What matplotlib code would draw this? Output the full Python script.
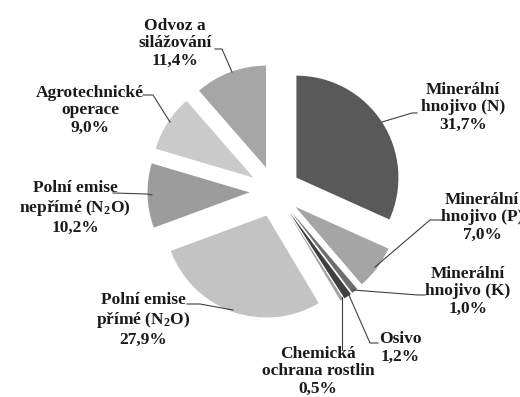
import matplotlib
matplotlib.use("Agg")
import matplotlib.pyplot as plt

# skladba emisí - podíly jednotlivých položek
labels = [
    "Minerální\nhnojivo (N)",
    "Minerální\nhnojivo (P)",
    "Minerální\nhnojivo (K)",
    "Osivo",
    "Chemická\nochrana rostlin",
    "Polní emise\npřímé (N$_2$O)",
    "Polní emise\nnepřímé (N$_2$O)",
    "Agrotechnické\noperace",
    "Odvoz a\nsilážování",
]
shares = [31.7, 7.0, 1.0, 1.2, 0.5, 27.9, 10.2, 9.0, 11.4]
colors = ["#595959", "#a5a5a5", "#6e6e6e", "#3f3f3f", "#a0a0a0",
          "#c3c3c3", "#9c9c9c", "#cacaca", "#a6a6a6"]

# umístění popisků (pixely, y odspodu) a lomené odkazové čáry
label_pos = [(463, 290), (482, 180), (468, 106), (400, 49), (318, 26),
             (143, 77), (75, 189), (90, 287), (175, 354)]
leaders = [
    [(417, 113), (412, 113), (382, 122)],
    [(443, 220), (430, 220), (375, 267)],
    [(425, 295), (418, 295), (353, 290)],
    [(378, 343), (370, 343), (348, 293)],
    [(342, 350), (342, 297)],
    [(187, 304), (200, 304), (233, 310)],
    [(113, 193), (147, 194), (152, 195)],
    [(143, 95), (153, 95), (170, 122)],
    [(215, 49), (222, 49), (232, 72)],
]

plt.rcParams["font.family"] = ["Liberation Serif", "DejaVu Serif"]
plt.rcParams["mathtext.fontset"] = "custom"
plt.rcParams["mathtext.rm"] = "Liberation Serif:bold"
plt.rcParams["mathtext.it"] = "Liberation Serif:bold"
plt.rcParams["mathtext.bf"] = "Liberation Serif:bold"

W, H = 520, 397
fig = plt.figure(figsize=(W / 100, H / 100), dpi=100)
ax = fig.add_axes([0, 0, 1, 1])

# explode je v jednotkách dat (pixely), ne jako podíl poloměru
ax.pie(shares, colors=colors, startangle=90, counterclock=False,
       center=(275, H - 191.5), radius=102, explode=[25.5] * len(shares),
       wedgeprops=dict(linewidth=0), frame=True)

ax.set_xlim(0, W)
ax.set_ylim(0, H)
ax.set_aspect("equal")
ax.axis("off")

for lab, val, (x, y), pts in zip(labels, shares, label_pos, leaders):
    txt = lab + "\n" + ("%.1f" % val).replace(".", ",") + "%"
    ax.text(x, y, txt, ha="center", va="center", fontsize=12.5,
            fontweight="bold", linespacing=1.12, color="#1a1a1a")
    xs = [p[0] for p in pts]
    ys = [H - p[1] for p in pts]
    ax.plot(xs, ys, color="#404040", linewidth=0.8)

fig.savefig("out.png", dpi=100)
